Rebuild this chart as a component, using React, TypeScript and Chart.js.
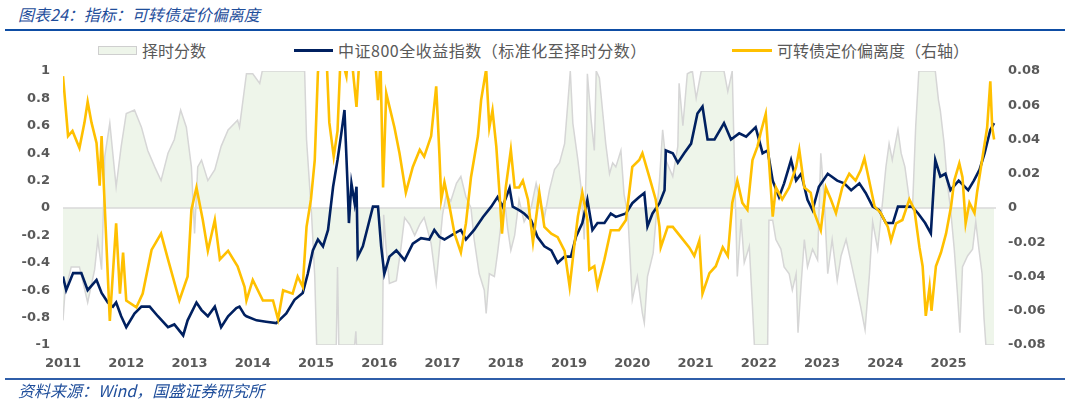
import React, { useEffect, useRef } from "react";
import { Chart, registerables } from "chart.js";

Chart.register(...registerables);

const titleText = "图表24：指标：可转债定价偏离度";
const sourceText = "资料来源：Wind，国盛证券研究所";
const legendLabels = ["择时分数", "中证800全收益指数（标准化至择时分数）", "可转债定价偏离度（右轴）"];

const yearTicks = [2011, 2012, 2013, 2014, 2015, 2016, 2017, 2018, 2019, 2020, 2021, 2022, 2023, 2024, 2025];
const leftTicks = [-1, -0.8, -0.6, -0.4, -0.2, 0, 0.2, 0.4, 0.6, 0.8, 1];
const rightTicks = [-0.08, -0.06, -0.04, -0.02, 0, 0.02, 0.04, 0.06, 0.08];

// 择时分数 (left axis)
const scoreYears = [
  2011.0, 2011.03, 2011.13, 2011.26, 2011.39, 2011.5, 2011.55, 2011.61, 2011.64, 2011.66, 2011.74, 2011.84, 2011.92,
  2012.0, 2012.13, 2012.24, 2012.34, 2012.45, 2012.55, 2012.66, 2012.76, 2012.86, 2012.95, 2013.03, 2013.08, 2013.13,
  2013.19, 2013.29, 2013.4, 2013.5, 2013.61, 2013.76, 2013.79, 2013.9, 2014.0, 2014.11, 2014.15, 2014.82, 2014.85,
  2014.9, 2014.93, 2014.98, 2015.01, 2015.32, 2015.34, 2015.36, 2015.61, 2015.63, 2015.64, 2016.05, 2016.07, 2016.11,
  2016.16, 2016.27, 2016.34, 2016.4, 2016.48, 2016.56, 2016.64, 2016.71, 2016.82, 2016.9, 2016.95, 2017.0, 2017.06,
  2017.13, 2017.22, 2017.29, 2017.37, 2017.45, 2017.5, 2017.58, 2017.66, 2017.69, 2017.74, 2017.82, 2017.87, 2017.93,
  2017.98, 2018.03, 2018.08, 2018.14, 2018.21, 2018.29, 2018.4, 2018.48, 2018.53, 2018.61, 2018.69, 2018.77, 2018.85,
  2018.93, 2018.98, 2019.02, 2019.06, 2019.14, 2019.19, 2019.24, 2019.27, 2019.29, 2019.35, 2019.4, 2019.43, 2019.48,
  2019.53, 2019.58, 2019.64, 2019.69, 2019.74, 2019.82, 2019.87, 2019.93, 2020.0, 2020.08, 2020.16, 2020.19, 2020.24,
  2020.33, 2020.38, 2020.43, 2020.48, 2020.53, 2020.64, 2020.72, 2020.74, 2020.8, 2020.87, 2020.95, 2021.01, 2021.09,
  2021.45, 2021.51, 2021.58, 2021.61, 2021.66, 2021.72, 2021.77, 2021.85, 2021.9, 2021.93, 2022.14, 2022.16, 2022.22,
  2022.27, 2022.35, 2022.4, 2022.48, 2022.53, 2022.59, 2022.62, 2022.67, 2022.72, 2022.77, 2022.85, 2022.93, 2022.98,
  2023.03, 2023.09, 2023.16, 2023.24, 2023.3, 2023.38, 2023.46, 2023.53, 2023.61, 2023.68, 2023.75, 2023.8, 2023.88,
  2023.96, 2024.01, 2024.06, 2024.11, 2024.2, 2024.25, 2024.31, 2024.38, 2024.43, 2024.48, 2024.53, 2024.79, 2024.84,
  2024.87, 2024.93, 2024.98, 2025.03, 2025.09, 2025.14, 2025.18, 2025.22, 2025.3, 2025.38, 2025.43, 2025.48, 2025.53,
  2025.56, 2025.59, 2025.72,
];
const scoreValues = [
  -0.82, -0.62, -0.43, -0.43, -0.69, -0.45, -0.23, -0.45, 0, 0.375, 0.62, 0.155, 0.45,
  0.69, 0.715, 0.59, 0.42, 0.3, 0.2, 0.4, 0.5, 0.715, 0.59, 0.3, -0.185, 0.3,
  0.35, 0.2, 0.28, 0.45, 0.57, 0.64, 0.59, 0.98, 0.98, 0.91, 1, 1, 0.5,
  0.155, -0.05, -0.5, -1, -1, -0.43, -1, -1, -0.9, -1, -1, -0.05, -0.3,
  -0.55, -0.53, -0.3, -0.07, -0.12, -0.2, -0.12, -0.07, -0.26, -0.55, -0.3, -0.05, 0.1,
  0.05, 0.18, 0.23, 0.08, 0, -0.23, -0.48, -0.6, -0.77, -0.48, -0.5, -0.33, -0.1,
  0.06, -0.15, -0.31, -0.2, 0.06, -0.1, 0, 0.18, 0.08, -0.07, 0.13, 0.28, 0.33,
  0.47, 0.76, 1, 0.62, 0.35, 0.15, -0.23, 0.28, 0.98, 0.64, 0.42, 1, 0.95,
  0.71, 0.47, 0.25, 0.33, 0.3, 0.42, 0.1, -0.05, -0.67, -0.5, -0.77, -0.84, -0.5,
  -0.33, -0.05, 0.2, 0.57, 0.35, 0.23, 0.45, 0.91, 0.6, 0.98, 1, 0.8, 1,
  1, 0.85, 1, 0.42, -0.5, -0.08, -0.4, -0.28, -0.72, -1, -1, -0.09, -0.09,
  -0.23, -0.3, -0.43, -0.48, -0.6, -0.48, -0.91, -0.55, -0.23, -0.43, -0.3, -0.38, 0.4,
  0.1, -0.48, -0.23, -0.53, -0.35, -0.23, -0.4, -0.55, -0.72, -0.89, -0.48, -0.1, -0.3,
  0.06, 0.3, 0.47, 0.35, 0.57, 0.4, 0.3, 0.06, 0, 0.59, 1, 1, 0.79,
  0.71, 0.47, 0.18, 0, -0.3, -0.62, -0.91, -0.43, -0.35, -0.3, -0.1, -0.3, -0.48,
  -0.8, -1, -1,
];

// 中证800全收益指数（标准化至择时分数） (left axis)
const csiYears = [
  2011.0, 2011.05, 2011.16, 2011.29, 2011.39, 2011.53, 2011.61, 2011.71, 2011.79, 2011.84, 2011.92, 2012.0, 2012.13,
  2012.24, 2012.37, 2012.5, 2012.66, 2012.76, 2012.9, 2012.97, 2013.11, 2013.19, 2013.29, 2013.4, 2013.5, 2013.61,
  2013.74, 2013.79, 2013.87, 2013.9, 2014.06, 2014.21, 2014.37, 2014.53, 2014.66, 2014.79, 2014.87, 2014.95, 2015.03,
  2015.11, 2015.19, 2015.27, 2015.34, 2015.4, 2015.45, 2015.5, 2015.52, 2015.56, 2015.61, 2015.64, 2015.66, 2015.74,
  2015.82, 2015.9, 2015.98, 2016.03, 2016.08, 2016.16, 2016.27, 2016.4, 2016.53, 2016.66, 2016.79, 2016.87, 2016.95,
  2017.03, 2017.19, 2017.29, 2017.37, 2017.5, 2017.64, 2017.77, 2017.87, 2017.95, 2018.06, 2018.11, 2018.21, 2018.29,
  2018.4, 2018.5, 2018.61, 2018.72, 2018.82, 2018.93, 2019.03, 2019.11, 2019.21, 2019.29, 2019.37, 2019.45, 2019.56,
  2019.66, 2019.74, 2019.9, 2020.0, 2020.11, 2020.19, 2020.24, 2020.32, 2020.43, 2020.51, 2020.53, 2020.64, 2020.72,
  2020.82, 2020.93, 2021.03, 2021.11, 2021.19, 2021.3, 2021.45, 2021.56, 2021.69, 2021.8, 2021.95, 2022.06, 2022.14,
  2022.22, 2022.32, 2022.4, 2022.51, 2022.59, 2022.67, 2022.77, 2022.85, 2022.95, 2023.09, 2023.24, 2023.35, 2023.46,
  2023.59, 2023.69, 2023.8, 2023.9, 2024.01, 2024.12, 2024.2, 2024.31, 2024.42, 2024.52, 2024.63, 2024.72, 2024.79,
  2024.87, 2024.95, 2025.03, 2025.16, 2025.31, 2025.4, 2025.49, 2025.57, 2025.66, 2025.72,
];
const csiValues = [
  -0.5, -0.6, -0.475, -0.475, -0.6, -0.525, -0.62, -0.69, -0.72, -0.69, -0.79, -0.87, -0.77,
  -0.72, -0.72, -0.79, -0.87, -0.85, -0.93, -0.82, -0.69, -0.745, -0.79, -0.72, -0.87, -0.79,
  -0.73, -0.72, -0.78, -0.79, -0.82, -0.83, -0.84, -0.77, -0.67, -0.62, -0.48, -0.31, -0.23,
  -0.28, -0.16, 0.155, 0.35, 0.545, 0.715, 0.155, -0.11, 0.18, 0.036, 0.155, -0.355, -0.28,
  -0.135, 0.01, 0.01, -0.28, -0.48, -0.355, -0.31, -0.38, -0.26, -0.22, -0.23, -0.16, -0.21,
  -0.23, -0.185, -0.16, -0.23, -0.16, -0.065, 0.01, 0.08, 0.01, 0.145, 0.01, -0.015, -0.04,
  -0.09, -0.21, -0.28, -0.31, -0.4, -0.355, -0.355, -0.21, -0.11, 0.06, -0.16, -0.11, -0.11,
  -0.04, -0.065, -0.04, 0.035, 0.08, 0.11, -0.135, -0.04, 0.035, 0.13, 0.42, 0.4, 0.33,
  0.4, 0.47, 0.69, 0.74, 0.5, 0.5, 0.62, 0.5, 0.545, 0.52, 0.59, 0.4, 0.42,
  0.2, 0.08, 0.18, 0.35, 0.2, 0.25, 0.06, -0.015, 0.155, 0.25, 0.2, 0.18, 0.13,
  0.18, 0.11, 0.01, -0.015, -0.11, -0.11, 0.01, 0.01, 0.01, -0.04, -0.11, -0.185, 0.35,
  0.23, 0.25, 0.13, 0.2, 0.13, 0.2, 0.28, 0.4, 0.57, 0.62,
];

// 可转债定价偏离度 (right axis)
const cbYears = [
  2011.0, 2011.08, 2011.15, 2011.26, 2011.34, 2011.39, 2011.45, 2011.53, 2011.58, 2011.61, 2011.66, 2011.74, 2011.84,
  2011.9, 2011.95, 2012.0, 2012.16, 2012.26, 2012.4, 2012.55, 2012.66, 2012.84, 2012.97, 2013.03, 2013.11, 2013.21,
  2013.29, 2013.4, 2013.48, 2013.61, 2013.76, 2013.87, 2013.9, 2014.0, 2014.16, 2014.32, 2014.4, 2014.48, 2014.63,
  2014.71, 2014.79, 2014.85, 2014.92, 2014.98, 2015.03, 2015.09, 2015.17, 2015.21, 2015.28, 2015.34, 2015.39, 2015.48,
  2015.53, 2015.64, 2015.69, 2015.81, 2015.92, 2015.98, 2016.02, 2016.06, 2016.11, 2016.24, 2016.32, 2016.42, 2016.53,
  2016.64, 2016.71, 2016.82, 2016.9, 2016.95, 2016.98, 2017.03, 2017.11, 2017.19, 2017.29, 2017.37, 2017.45, 2017.56,
  2017.61, 2017.69, 2017.74, 2017.79, 2017.85, 2017.9, 2017.94, 2018.0, 2018.08, 2018.14, 2018.21, 2018.27, 2018.35,
  2018.43, 2018.53, 2018.61, 2018.72, 2018.82, 2018.93, 2019.01, 2019.08, 2019.14, 2019.21, 2019.29, 2019.32, 2019.4,
  2019.45, 2019.56, 2019.66, 2019.79, 2019.9, 2020.0, 2020.11, 2020.16, 2020.27, 2020.37, 2020.43, 2020.45, 2020.56,
  2020.64, 2020.77, 2020.9, 2020.98, 2021.06, 2021.11, 2021.22, 2021.32, 2021.43, 2021.51, 2021.58, 2021.66, 2021.74,
  2021.82, 2021.9, 2021.98, 2022.03, 2022.11, 2022.16, 2022.22, 2022.27, 2022.37, 2022.48, 2022.59, 2022.64, 2022.72,
  2022.82, 2022.88, 2022.98, 2023.06, 2023.14, 2023.22, 2023.32, 2023.43, 2023.53, 2023.61, 2023.67, 2023.75, 2023.83,
  2023.93, 2024.04, 2024.09, 2024.17, 2024.27, 2024.38, 2024.46, 2024.54, 2024.59, 2024.64, 2024.7, 2024.73, 2024.8,
  2024.88, 2024.96, 2025.04, 2025.09, 2025.17, 2025.22, 2025.27, 2025.33, 2025.41, 2025.45, 2025.53, 2025.61, 2025.66,
  2025.69, 2025.72,
];
const cbValues = [
  0.077, 0.042, 0.045, 0.035, 0.05, 0.062, 0.05, 0.038, 0.013, 0.042, 0.001, -0.066, -0.009,
  -0.05, -0.026, -0.054, -0.058, -0.05, -0.0245, -0.015, -0.03, -0.054, -0.04, -0.001, 0.012, -0.007,
  -0.025, -0.007, -0.03, -0.025, -0.034, -0.046, -0.054, -0.042, -0.054, -0.054, -0.065, -0.048, -0.05,
  -0.04, -0.046, -0.011, 0.005, 0.028, 0.079, 0.1, 0.085, 0.05, 0.03, 0.045, 0.09, 0.077,
  0.1, 0.059, 0.09, 0.11, 0.095, 0.063, 0.085, 0.012, 0.067, 0.047, 0.032, 0.009, 0.024,
  0.034, 0.03, 0.042, 0.071, 0.032, 0.005, 0.015, 0.001, -0.015, -0.026, -0.009, 0.018, 0.042,
  0.063, 0.081, 0.047, 0.057, 0.036, 0.009, -0.015, 0.012, 0.034, 0.012, 0.012, 0.016, 0.005,
  -0.02, 0.009, -0.011, -0.015, -0.017, -0.025, -0.046, -0.023, -0.005, 0.009, -0.007, -0.036, -0.034,
  -0.046, -0.03, -0.013, -0.013, -0.007, 0.024, 0.028, 0.032, 0.018, 0.005, -0.011, -0.023, -0.011,
  -0.011, -0.017, -0.023, -0.028, -0.019, -0.05, -0.038, -0.034, -0.023, -0.028, 0.003, 0.016, 0.003,
  -0.001, 0.028, 0.036, 0.044, 0.055, 0.028, -0.005, 0.012, 0.005, 0.012, 0.024, 0.034, 0.012,
  0.009, -0.003, -0.013, 0.012, 0.005, -0.003, 0.012, 0.02, 0.016, 0.022, 0.029, 0.015, 0.001,
  -0.003, -0.011, -0.019, -0.009, -0.007, 0.005, -0.001, -0.023, -0.034, -0.063, -0.046, -0.06, -0.034,
  -0.026, -0.015, 0.001, 0.016, 0.026, 0.018, -0.009, 0.003, -0.003, 0.009, 0.028, 0.047, 0.074,
  0.047, 0.04,
];

const GRAY_TEXT = "#595959";
const BLUE_TEXT = "#1F4E9B";
const CJK_FONT = "'Noto Sans CJK SC', 'Noto Sans', sans-serif";
const TICK_FONT = { family: "'DejaVu Sans', 'Liberation Sans', sans-serif", size: 13, weight: "bold" as const };

export default function App() {
  const canvasRef = useRef<HTMLCanvasElement | null>(null);

  useEffect(() => {
    if (!canvasRef.current) return;
    const zeroLine = {
      id: "zeroLine",
      afterDatasetDraw(chart: any, args: any) {
        if (args.index !== 0) return;
        const { ctx, chartArea, scales } = chart;
        const y = scales.y.getPixelForValue(0);
        ctx.save();
        ctx.strokeStyle = "#D9D9D9";
        ctx.lineWidth = 1.5;
        ctx.beginPath();
        ctx.moveTo(chartArea.left, y);
        ctx.lineTo(chartArea.right, y);
        ctx.stroke();
        ctx.restore();
      },
    };

    const noGrid = { display: false, drawTicks: false, tickLength: 0 };

    const chart = new Chart(canvasRef.current, {
      type: "line",
      data: {
        datasets: [
          {
            label: legendLabels[0],
            data: scoreYears.map((x, i) => ({ x, y: scoreValues[i] })),
            yAxisID: "y",
            fill: "origin",
            backgroundColor: "#EEF5EA",
            borderColor: "#D6D6D6",
            borderWidth: 1.5,
            pointRadius: 0,
            tension: 0,
            order: 3,
          },
          {
            label: legendLabels[1],
            data: csiYears.map((x, i) => ({ x, y: csiValues[i] })),
            yAxisID: "y",
            fill: false,
            borderColor: "#002060",
            borderWidth: 2.6,
            pointRadius: 0,
            tension: 0,
            order: 2,
          },
          {
            label: legendLabels[2],
            data: cbYears.map((x, i) => ({ x, y: cbValues[i] })),
            yAxisID: "y1",
            fill: false,
            borderColor: "#FFC000",
            borderWidth: 2.6,
            pointRadius: 0,
            tension: 0,
            order: 1,
          },
        ],
      },
      options: {
        animation: false,
        responsive: false,
        maintainAspectRatio: false,
        layout: { padding: { top: 11, left: 0, right: 0, bottom: 0 } },
        plugins: { legend: { display: false }, tooltip: { enabled: false } },
        scales: {
          x: {
            type: "linear",
            min: 2011,
            max: 2025.75,
            grid: noGrid,
            border: { display: false },
            afterBuildTicks: (s: any) => {
              s.ticks = yearTicks.map((v) => ({ value: v }));
            },
            afterFit: (s: any) => {
              s.height = 35;
              s.paddingLeft = 0;
              s.paddingRight = 0;
            },
            ticks: {
              padding: 11,
              color: GRAY_TEXT,
              font: TICK_FONT,
              maxRotation: 0,
              autoSkip: false,
              callback: (v: any) => String(v),
            },
          },
          y: {
            position: "left",
            min: -1,
            max: 1,
            grid: noGrid,
            border: { display: false },
            afterBuildTicks: (s: any) => {
              s.ticks = leftTicks.map((v) => ({ value: v }));
            },
            afterFit: (s: any) => {
              s.width = 63;
              s.paddingTop = 0;
              s.paddingBottom = 0;
            },
            ticks: {
              padding: 13,
              color: GRAY_TEXT,
              font: TICK_FONT,
              callback: (v: any) => String(Math.round(Number(v) * 10) / 10),
            },
          },
          y1: {
            position: "right",
            min: -0.08,
            max: 0.08,
            grid: noGrid,
            border: { display: false },
            afterBuildTicks: (s: any) => {
              s.ticks = rightTicks.map((v) => ({ value: v }));
            },
            afterFit: (s: any) => {
              s.width = 69;
              s.paddingTop = 0;
              s.paddingBottom = 0;
            },
            ticks: {
              padding: 12,
              color: GRAY_TEXT,
              font: TICK_FONT,
              callback: (v: any) => (Math.abs(Number(v)) < 1e-9 ? "0" : Number(v).toFixed(2)),
            },
          },
        },
      },
      plugins: [zeroLine],
    } as any);
    return () => chart.destroy();
  }, []);

  const abs = (style: React.CSSProperties): React.CSSProperties => ({ position: "absolute", ...style });
  const legendText: React.CSSProperties = {
    position: "absolute",
    top: 40,
    height: 20,
    lineHeight: "20px",
    fontSize: 16,
    fontFamily: CJK_FONT,
    color: GRAY_TEXT,
    whiteSpace: "nowrap",
  };
  const blueText: React.CSSProperties = {
    position: "absolute",
    left: 18,
    height: 20,
    lineHeight: "20px",
    fontSize: 16,
    fontStyle: "italic",
    fontFamily: CJK_FONT,
    color: BLUE_TEXT,
    whiteSpace: "nowrap",
  };

  return (
    <div style={{ position: "absolute", left: 0, top: 0, width: 1065, height: 404, background: "#fff", overflow: "hidden" }}>
      <div style={{ ...blueText, top: 4 }}>{titleText}</div>
      <div style={abs({ left: 5, top: 29, width: 1060, height: 2, background: "#0E4DA4" })} />

      <div style={abs({ left: 98, top: 46, width: 37, height: 7, background: "#EEF5EA", border: "1px solid #CFCFCF" })} />
      <div style={{ ...legendText, left: 142 }}>{legendLabels[0]}</div>
      <div style={abs({ left: 294, top: 48.5, width: 39, height: 3, background: "#002060" })} />
      <div style={{ ...legendText, left: 338, letterSpacing: 0.5 }}>{legendLabels[1]}</div>
      <div style={abs({ left: 732, top: 48.5, width: 40, height: 3, background: "#FFC000" })} />
      <div style={{ ...legendText, left: 777 }}>{legendLabels[2]}</div>

      <canvas
        ref={canvasRef}
        width={1065}
        height={320}
        style={abs({ left: 0, top: 60, width: 1065, height: 320 })}
      />

      <div style={abs({ left: 5, top: 378, width: 1060, height: 1.5, background: "#2F5EA9" })} />
      <div style={{ ...blueText, top: 380 }}>{sourceText}</div>
    </div>
  );
}
